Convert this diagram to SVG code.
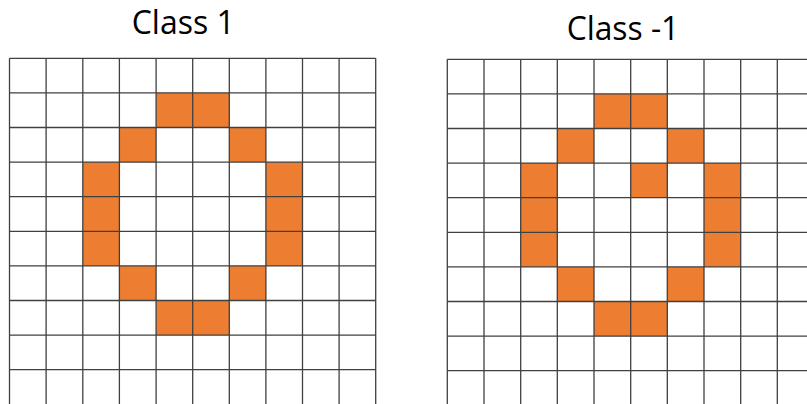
<svg xmlns="http://www.w3.org/2000/svg" width="807" height="404" viewBox="0 0 807 404">
<style>
.t{font-family:"Open Sans","Liberation Sans",sans-serif;font-size:32px;fill:#000}
.on{fill:#ED7D31}
.g{stroke:#404040;stroke-width:1.3;fill:none}
</style>
<rect width="807" height="404" fill="#fff"/>
<g id="left-grid">
<text class="t" x="131.7" y="34.3" textLength="103" lengthAdjust="spacingAndGlyphs">Class 1</text>
<g class="on">
<rect x="156.1" y="92.9" width="73.2" height="34.6"/>
<rect x="119.4" y="127.5" width="36.6" height="34.6"/>
<rect x="229.3" y="127.5" width="36.6" height="34.6"/>
<rect x="82.8" y="162.1" width="36.6" height="103.8"/>
<rect x="265.9" y="162.1" width="36.6" height="103.8"/>
<rect x="119.4" y="265.9" width="36.6" height="34.6"/>
<rect x="229.3" y="265.9" width="36.6" height="34.6"/>
<rect x="156.1" y="300.5" width="73.2" height="34.6"/>
</g>
<path class="g" d="M9.5 58.3V405M46.1 58.3V405M82.8 58.3V405M119.4 58.3V405M156.1 58.3V405M192.7 58.3V405M229.3 58.3V405M265.9 58.3V405M302.5 58.3V405M339.1 58.3V405M375.7 58.3V405M9.5 58.3H375.7M9.5 92.9H375.7M9.5 127.5H375.7M9.5 162.1H375.7M9.5 196.7H375.7M9.5 231.3H375.7M9.5 265.9H375.7M9.5 300.5H375.7M9.5 335.1H375.7M9.5 369.7H375.7"/>
</g>
<g id="right-grid">
<text class="t" x="566.7" y="39.5" textLength="112.6" lengthAdjust="spacingAndGlyphs">Class -1</text>
<g class="on">
<rect x="594" y="93.9" width="73.3" height="34.6"/>
<rect x="557.3" y="128.5" width="36.7" height="34.6"/>
<rect x="667.3" y="128.5" width="36.7" height="34.6"/>
<rect x="520.7" y="163.1" width="36.6" height="103.8"/>
<rect x="630.7" y="163.1" width="36.6" height="34.6"/>
<rect x="704" y="163.1" width="36.7" height="103.8"/>
<rect x="557.3" y="266.9" width="36.7" height="34.6"/>
<rect x="667.3" y="266.9" width="36.7" height="34.6"/>
<rect x="594" y="301.5" width="73.3" height="34.6"/>
</g>
<path class="g" d="M447.3 59.3V405M484 59.3V405M520.7 59.3V405M557.3 59.3V405M594 59.3V405M630.7 59.3V405M667.3 59.3V405M704 59.3V405M740.7 59.3V405M777.3 59.3V405M814 59.3V405M447.3 59.3H814M447.3 93.9H814M447.3 128.5H814M447.3 163.1H814M447.3 197.7H814M447.3 232.3H814M447.3 266.9H814M447.3 301.5H814M447.3 336.1H814M447.3 370.7H814"/>
</g>
</svg>
